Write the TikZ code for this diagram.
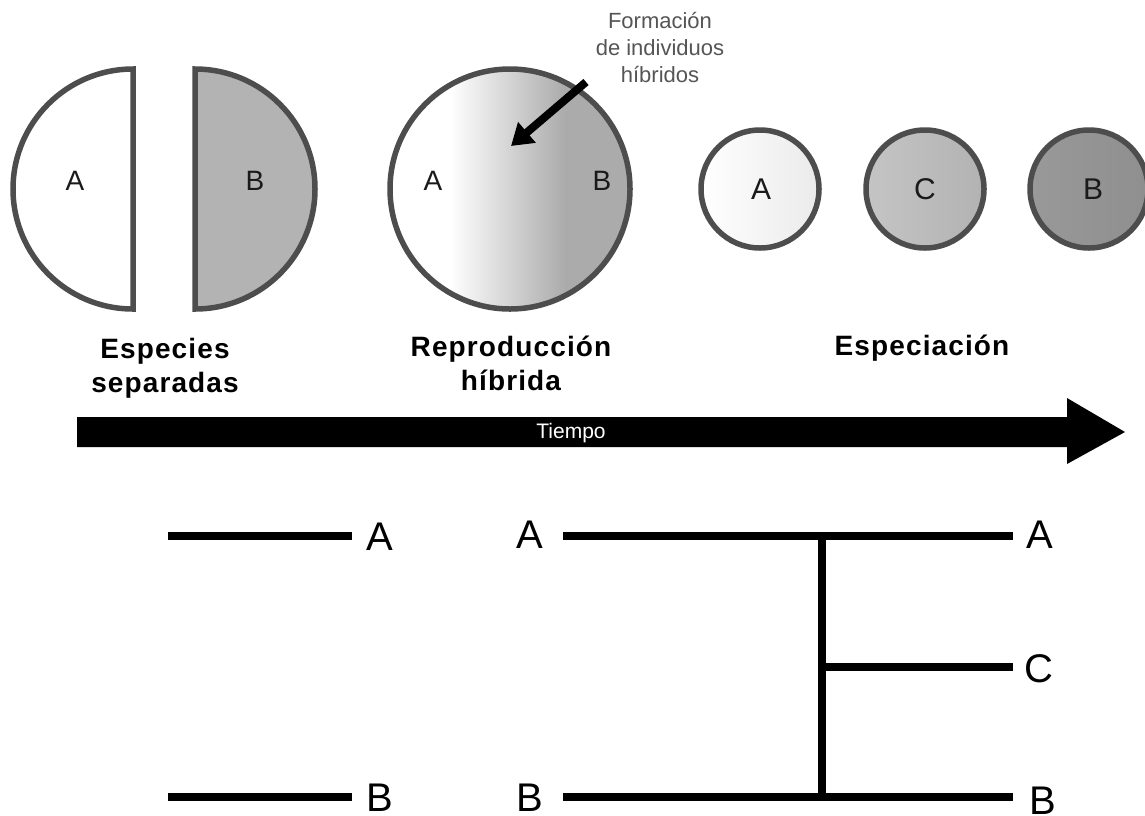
\documentclass[tikz,border=0pt]{standalone}
\usepackage{fontspec}
\setmainfont{Liberation Sans}
\newfontfamily\titlefont[LetterSpace=4]{Liberation Sans}
\usetikzlibrary{arrows.meta}
\definecolor{edge}{HTML}{4D4D4D}
\definecolor{halfB}{HTML}{B3B3B3}
\definecolor{hybg}{HTML}{ABABAB}
\definecolor{note}{HTML}{555555}
\definecolor{ink}{HTML}{1A1A1A}
\pgfdeclarehorizontalshading{hybrid}{100bp}{color(0bp)=(white); color(37.5bp)=(white); color(61.5bp)=(hybg); color(100bp)=(hybg)}
\begin{document}
\begin{tikzpicture}[x=1pt,y=-1pt,
  ring/.style={draw=edge,line width=5.5pt},
  letter/.style={anchor=base,inner sep=0pt,text=ink,font=\fontsize{28}{34}\selectfont},
  smallletter/.style={anchor=base,inner sep=0pt,text=ink,font=\fontsize{30}{34}\selectfont},
  stage/.style={anchor=base,inner sep=0pt,align=center,font=\titlefont\bfseries\fontsize{28}{34}\selectfont},
  branch/.style={line width=8pt,black},
  treelabel/.style={anchor=base,inner sep=0pt,font=\fontsize{40}{44}\selectfont}]
\useasboundingbox (0,0) rectangle (1145,815);
\fill[white] (0,0) rectangle (1145,815);

% separated species
\path[ring,fill=white] (133,309) arc[start angle=90,end angle=270,radius=120] -- cycle;
\path[ring,fill=halfB] (195,309) arc[start angle=90,end angle=-90,radius=120] -- cycle;
\node[letter] (hA) at (75,190) {A};
\node[letter] (hB) at (255,190) {B};

% hybrid reproduction
\node[circle,minimum size=240pt,inner sep=0pt,ring,shading=hybrid] (hyb) at (510,189) {};
\node[letter] (yA) at (433,190) {A};
\node[letter] (yB) at (602,190) {B};
\node[anchor=base,inner sep=0pt,align=center,text=note,font=\fontsize{22}{27}\selectfont] (note) at (660,82) {Formación\\de individuos\\híbridos};
\coordinate (tail) at (586,82);
\coordinate (tip) at (511,146);
\draw[line width=8pt,-{Triangle[length=21pt,width=26pt]}] (tail) -- (tip);

% speciation
\node[circle,minimum size=118pt,inner sep=0pt,ring,left color=white,right color=black!8] (sA) at (760,189) {};
\node[circle,minimum size=118pt,inner sep=0pt,ring,left color=black!23,right color=black!30] (sC) at (925,189) {};
\node[circle,minimum size=118pt,inner sep=0pt,ring,left color=black!40,right color=black!44] (sB) at (1089,189) {};
\node[smallletter] at (761,199) {A};
\node[smallletter] at (925,199) {C};
\node[smallletter] at (1093,199) {B};

% stage titles
\node[stage] (t1) at (165,392) {Especies\\separadas};
\node[stage] (t2) at (511,390) {Reproducción\\híbrida};
\node[stage] (t3) at (922,355) {Especiación};

% time arrow
\fill[black] (77,417) -- (1067,417) -- (1067,398) -- (1125,432) -- (1067,464) -- (1067,447) -- (77,447) -- cycle;
\node[anchor=base,inner sep=0pt,text=white,font=\fontsize{21}{24}\selectfont] (time) at (571,438) {Tiempo};

% trees
\coordinate (lA1) at (168,536); \coordinate (lA2) at (352,536);
\coordinate (lB1) at (168,797); \coordinate (lB2) at (352,797);
\coordinate (rA1) at (563,536); \coordinate (rA2) at (1013,536);
\coordinate (rB1) at (563,797); \coordinate (rB2) at (1013,797);
\coordinate (jA) at (822,536); \coordinate (jB) at (822,797);
\coordinate (jC) at (822,667); \coordinate (rC2) at (1013,667);
\draw[branch] (lA1) -- (lA2);
\draw[branch] (lB1) -- (lB2);
\draw[branch] (rA1) -- (rA2);
\draw[branch] (rB1) -- (rB2);
\draw[branch] ([yshift=-4pt]jA) -- ([yshift=4pt]jB);
\draw[branch] (jC) -- (rC2);
\node[treelabel] (LA) at (380,550) {A};
\node[treelabel] (LB) at (380,811) {B};
\node[treelabel] (MA) at (530,548) {A};
\node[treelabel] (MB) at (530,811) {B};
\node[treelabel] (RA) at (1040,548) {A};
\node[treelabel] (RC) at (1039,682) {C};
\node[treelabel] (RB) at (1043,814) {B};
\end{tikzpicture}
\end{document}
